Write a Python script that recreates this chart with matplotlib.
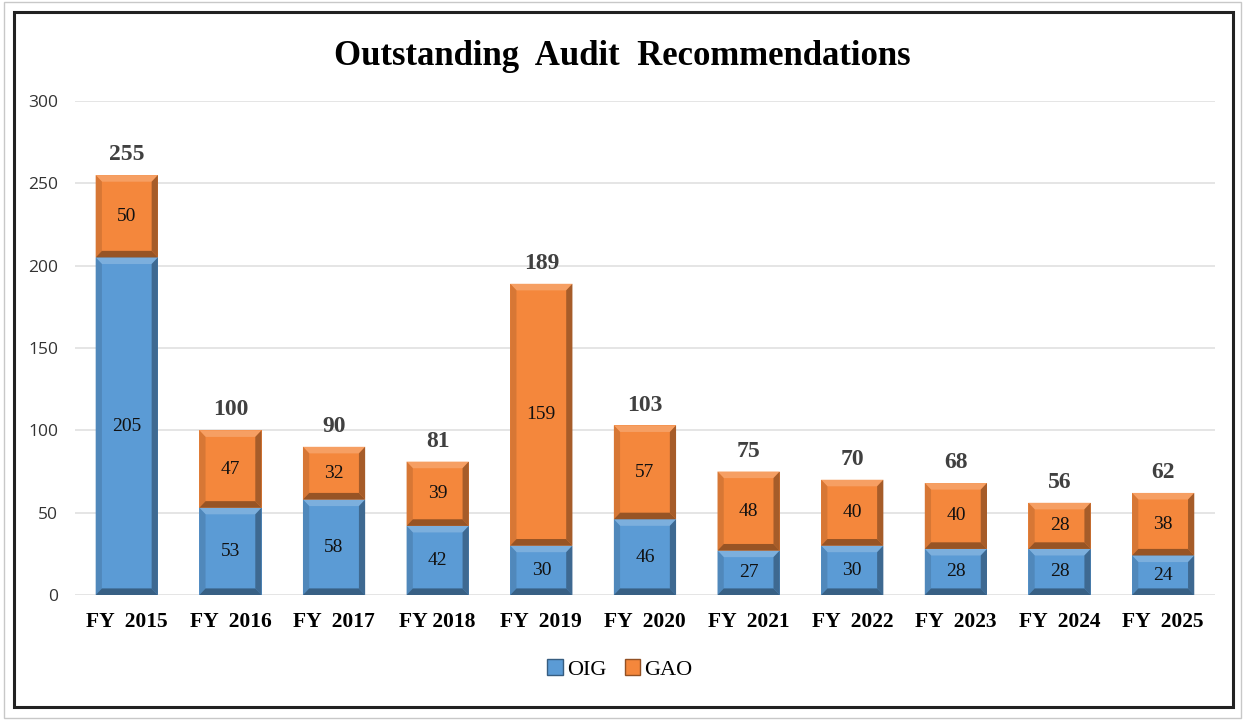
import numpy as np
import matplotlib
matplotlib.use("Agg")
import matplotlib.pyplot as plt
from matplotlib.patches import Polygon, Rectangle, Patch
from matplotlib.colors import to_rgb

years = ["FY  2015", "FY  2016", "FY  2017", "FY 2018", "FY  2019", "FY  2020",
         "FY  2021", "FY  2022", "FY  2023", "FY  2024", "FY  2025"]
oig = [205, 53, 58, 42, 30, 46, 27, 30, 28, 28, 24]
gao = [50, 47, 32, 39, 159, 57, 48, 40, 40, 28, 38]

BLUE = "#5B9BD5"
ORANGE = "#F4873C"
SERIF = "Liberation Serif"


def shade(c, f):
    r = np.array(to_rgb(c))
    if f > 1:
        return tuple(r + (1 - r) * (f - 1))
    return tuple(r * f)


def bevel_bar(ax, x, bottom, h, w, color, bx, by):
    # flat face plus four bevel strips for the "3D button" look
    x0, x1 = x - w / 2, x + w / 2
    y0, y1 = bottom, bottom + h
    ax.add_patch(Rectangle((x0, y0), w, h, facecolor=color, edgecolor="none", zorder=3))
    by = min(by, h / 3)
    top = [(x0, y1), (x1, y1), (x1 - bx, y1 - by), (x0 + bx, y1 - by)]
    bot = [(x0, y0), (x1, y0), (x1 - bx, y0 + by), (x0 + bx, y0 + by)]
    left = [(x0, y0), (x0, y1), (x0 + bx, y1 - by), (x0 + bx, y0 + by)]
    right = [(x1, y0), (x1, y1), (x1 - bx, y1 - by), (x1 - bx, y0 + by)]
    ax.add_patch(Polygon(top, closed=True, facecolor=shade(color, 1.2), edgecolor="none", zorder=4))
    ax.add_patch(Polygon(left, closed=True, facecolor=shade(color, 0.88), edgecolor="none", zorder=4))
    ax.add_patch(Polygon(right, closed=True, facecolor=shade(color, 0.68), edgecolor="none", zorder=4))
    ax.add_patch(Polygon(bot, closed=True, facecolor=shade(color, 0.62), edgecolor="none", zorder=4))


fig = plt.figure(figsize=(12.45, 7.2), dpi=100)
ax = fig.add_axes([0.0602, 0.1736, 0.9157, 0.6861])

# frame around the chart
fig.patches.append(Rectangle((0.003, 0.003), 0.994, 0.994, transform=fig.transFigure,
                             fill=False, edgecolor="#c8c8c8", linewidth=1))
fig.patches.append(Rectangle((0.011, 0.018), 0.979, 0.965, transform=fig.transFigure,
                             fill=False, edgecolor="#222222", linewidth=2.2))

xs = np.arange(len(years))
w = 0.6
bx, by = 0.06, 4.0
totals = [a + b for a, b in zip(oig, gao)]

for i in xs:
    bevel_bar(ax, i, 0, oig[i], w, BLUE, bx, by)
    bevel_bar(ax, i, oig[i], gao[i], w, ORANGE, bx, by)
    ax.text(i, oig[i] / 2, str(oig[i]), ha="center", va="center", fontsize=14,
            family=SERIF, color="#111111", zorder=5)
    ax.text(i, oig[i] + gao[i] / 2, str(gao[i]), ha="center", va="center", fontsize=14,
            family=SERIF, color="#111111", zorder=5)
    ax.text(i, totals[i] + 6, str(totals[i]), ha="center", va="bottom", fontsize=17,
            family=SERIF, fontweight="bold", color="#404040", zorder=5)

ax.set_xlim(-0.5, len(years) - 0.5)
ax.set_ylim(0, 300)
ax.set_yticks(range(0, 301, 50))
ax.grid(axis="y", color="#e0e0e0", linewidth=1.2, zorder=0)
ax.set_axisbelow(True)
for s in ax.spines.values():
    s.set_visible(False)
ax.tick_params(length=0)
ax.set_xticks(xs)
ax.set_xticklabels(years, family=SERIF, fontweight="bold", fontsize=15.5)
ax.tick_params(axis="x", pad=12)
ax.tick_params(axis="y", labelsize=12.5, labelcolor="#333333", pad=12)
for t in ax.get_yticklabels():
    t.set_family("Open Sans")

fig.text(0.5, 0.922, "Outstanding  Audit  Recommendations", ha="center", va="center",
         family=SERIF, fontweight="bold", fontsize=25)

handles = [Patch(facecolor=BLUE, edgecolor=shade(BLUE, 0.6)),
           Patch(facecolor=ORANGE, edgecolor=shade(ORANGE, 0.6))]
fig.legend(handles, ["OIG", "GAO"], loc="center", bbox_to_anchor=(0.498, 0.07), ncol=2,
           frameon=False, prop={"family": SERIF, "size": 16}, handlelength=0.7,
           handleheight=0.7, handletextpad=0.2, columnspacing=0.8)

fig.savefig("out.png", dpi=100)
